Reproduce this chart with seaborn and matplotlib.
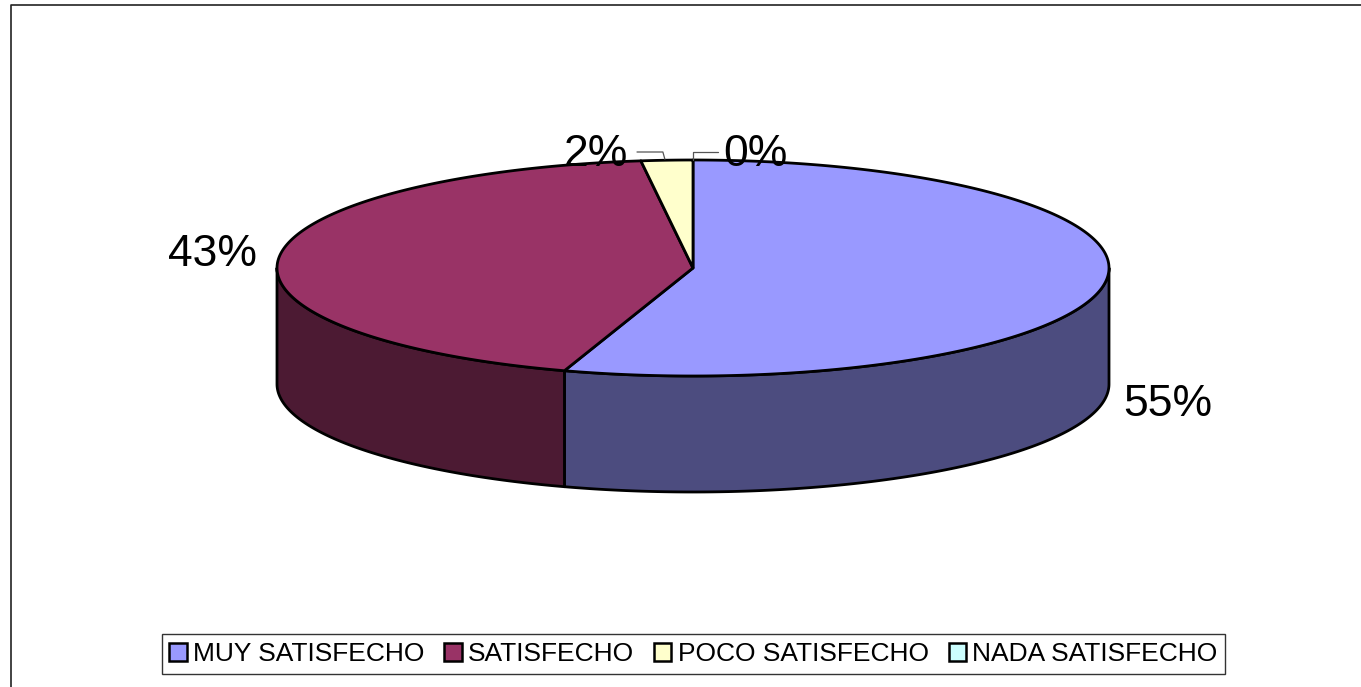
import numpy as np
import matplotlib.pyplot as plt
import seaborn as sns
from matplotlib.patches import Patch

sns.set_theme(style="white")
plt.rcParams['font.family'] = ['Liberation Sans', 'DejaVu Sans']
plt.rcParams['text.color'] = 'black'

# ---- data ----
categories = ['MUY SATISFECHO', 'SATISFECHO', 'POCO SATISFECHO', 'NADA SATISFECHO']
shares = [55, 43, 2, 0]
labels = ['55%', '43%', '2%', '0%']
top_colors = ['#9999FF', '#993366', '#FFFFCC', '#CCFFFF']
side_colors = ['#4C4C7F', '#4C1A33', '#80806A', '#6A8080']

# ---- layout (pixel space) ----
W, H = 1361, 687
cx, cy = 693, 268          # centre of the top face
ra, rb = 416, 108          # ellipse semi-axes
depth = 116                # thickness of the pie
label_xy = [(1168, 405), (213, 255), (596, 155), (755, 155)]

fig = plt.figure(figsize=(W / 100, H / 100), dpi=100)
ax = fig.add_axes([0, 0, 1, 1])
ax.set_xlim(0, W)
ax.set_ylim(H, 0)
ax.axis('off')


def pt(theta_deg, dz=0.0):
    t = np.radians(theta_deg)
    return cx + ra * np.cos(t), cy - rb * np.sin(t) + dz


# slice angles: start at 12 o'clock, go clockwise
fracs = np.array(shares, dtype=float) / sum(shares)
starts = 90 - 360 * np.concatenate([[0], np.cumsum(fracs)[:-1]])
ends = starts - 360 * fracs

# sides (front half only: sin(theta) < 0)
for s, e, col in zip(starts, ends, side_colors):
    if s == e:
        continue
    lo, hi = e, s
    for k in range(-2, 2):
        f_lo, f_hi = -180 + 360 * k, 360 * k
        a, b = max(lo, f_lo), min(hi, f_hi)
        if b - a <= 0:
            continue
        th = np.linspace(a, b, 200)
        xt, yt = pt(th)
        xb, yb = pt(th[::-1], depth)
        ax.fill(np.r_[xt, xb], np.r_[yt, yb], facecolor=col,
                edgecolor='black', linewidth=2.0, joinstyle='round')

# top faces
for s, e, col in zip(starts, ends, top_colors):
    if s == e:
        continue
    th = np.linspace(s, e, 300)
    xa, ya = pt(th)
    ax.fill(np.r_[cx, xa], np.r_[cy, ya], facecolor=col,
            edgecolor='black', linewidth=2.0, joinstyle='round')

# data labels
for lab, (lx, ly) in zip(labels, label_xy):
    ax.text(lx, ly, lab, fontsize=32, ha='center', va='center', color='black')

# leader lines for the two small slices
mids = (starts + ends) / 2
x2, y2 = pt(mids[2])
ax.plot([637, x2 - 4, x2 - 2], [152, 152, y2 - 1], color='#555555', lw=0.9)
x0, y0 = pt(mids[3])
ax.plot([x0, x0, 718], [y0, 152, 152], color='#555555', lw=0.9)

# legend
handles = [Patch(facecolor=c, edgecolor='black', linewidth=1.8) for c in top_colors]
leg = fig.legend(handles, categories, loc='center', ncol=4,
                 bbox_to_anchor=(693.5 / W, 1 - 654 / H), fontsize=19,
                 frameon=True, fancybox=False, handlelength=0.65, handleheight=0.65,
                 handletextpad=0.25, columnspacing=0.75, borderpad=0.3,
                 borderaxespad=0)
leg.get_frame().set_edgecolor('black')
leg.get_frame().set_linewidth(1.0)
for t in leg.get_texts():
    t.set_color('black')

# chart area border (top and left edges visible)
ax.plot([11, 11, W], [H, 5, 5], color='#222222', lw=1.2, clip_on=False)

fig.savefig('out.png', dpi=100)
